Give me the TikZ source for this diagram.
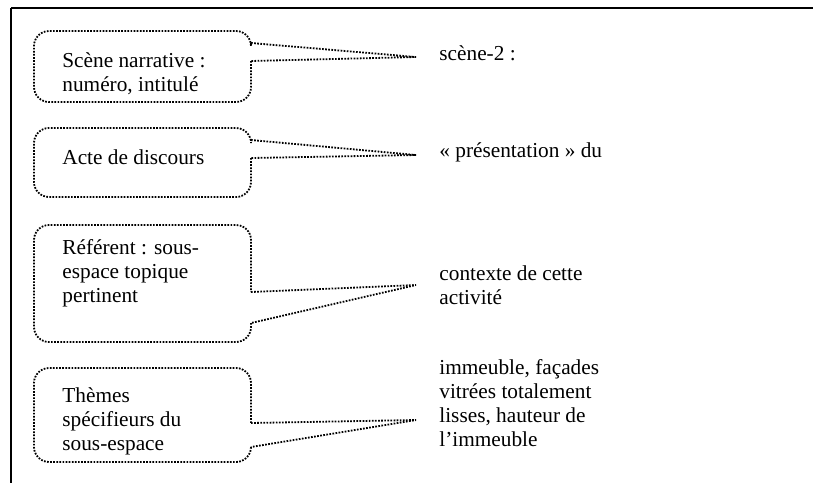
\documentclass[tikz,border=0pt]{standalone}
\usepackage{fontspec}
\setmainfont{Liberation Serif}
\usepackage{tikz}
\usetikzlibrary{positioning}

\tikzset{
  bubble/.style={line width=0.9pt, dash pattern=on 0.85pt off 0.7pt},
  frame/.style={line width=0.75pt},
  lbl/.style={anchor=base west, align=left, inner sep=0pt,
    font=\fontsize{10.65}{11.9}\selectfont}
}

\begin{document}
\begin{tikzpicture}[x=0.5pt, y=-0.5pt]
    \useasboundingbox (0,0) rectangle (813,483);
    % frame
    \draw[frame] (11,8) -- (813,8);
    \draw[frame] (11,8) -- (11,483);
    % callouts: top/bottom/upper base/lower base/tip
    \foreach \t/\b/\u/\l/\p [count=\n] in {31/102/43/61/57, 128/197/140/158/155,
        225/342/292/323/285, 368/462/423/447/420}{
      \coordinate (tip\n) at (416,\p);
      \draw[bubble, rounded corners=7.5pt] (251,\l) -- (251,\b) -- (34,\b)
        -- (34,\t) -- (251,\t) -- (251,\u);
      \draw[bubble] (251,\u) -- (tip\n) -- (251,\l);
    };
    % left labels (anchored on the last line)
    \node[lbl] (scene) at (62,91) {Scène narrative :\\numéro, intitulé};
    \node[lbl] (acte) at (62,164) {Acte de discours};
    \node[lbl] (referent) at (62,302) {Référent : sous-\\espace topique\\pertinent};
    \node[lbl] (themes) at (62,450) {Thèmes\\spécifieurs du\\sous-espace};
    % right labels
    \node[lbl] (scenetxt) at (439,60) {scène-2 :};
    \node[lbl] (actetxt) at (439,157) {« présentation » du};
    \node[lbl] (contexte) at (439,304) {contexte de cette\\activité};
    \node[lbl] (immeuble) at (439,446) {immeuble, façades\\vitrées totalement\\lisses, hauteur de\\l’immeuble};
\end{tikzpicture}
\end{document}
